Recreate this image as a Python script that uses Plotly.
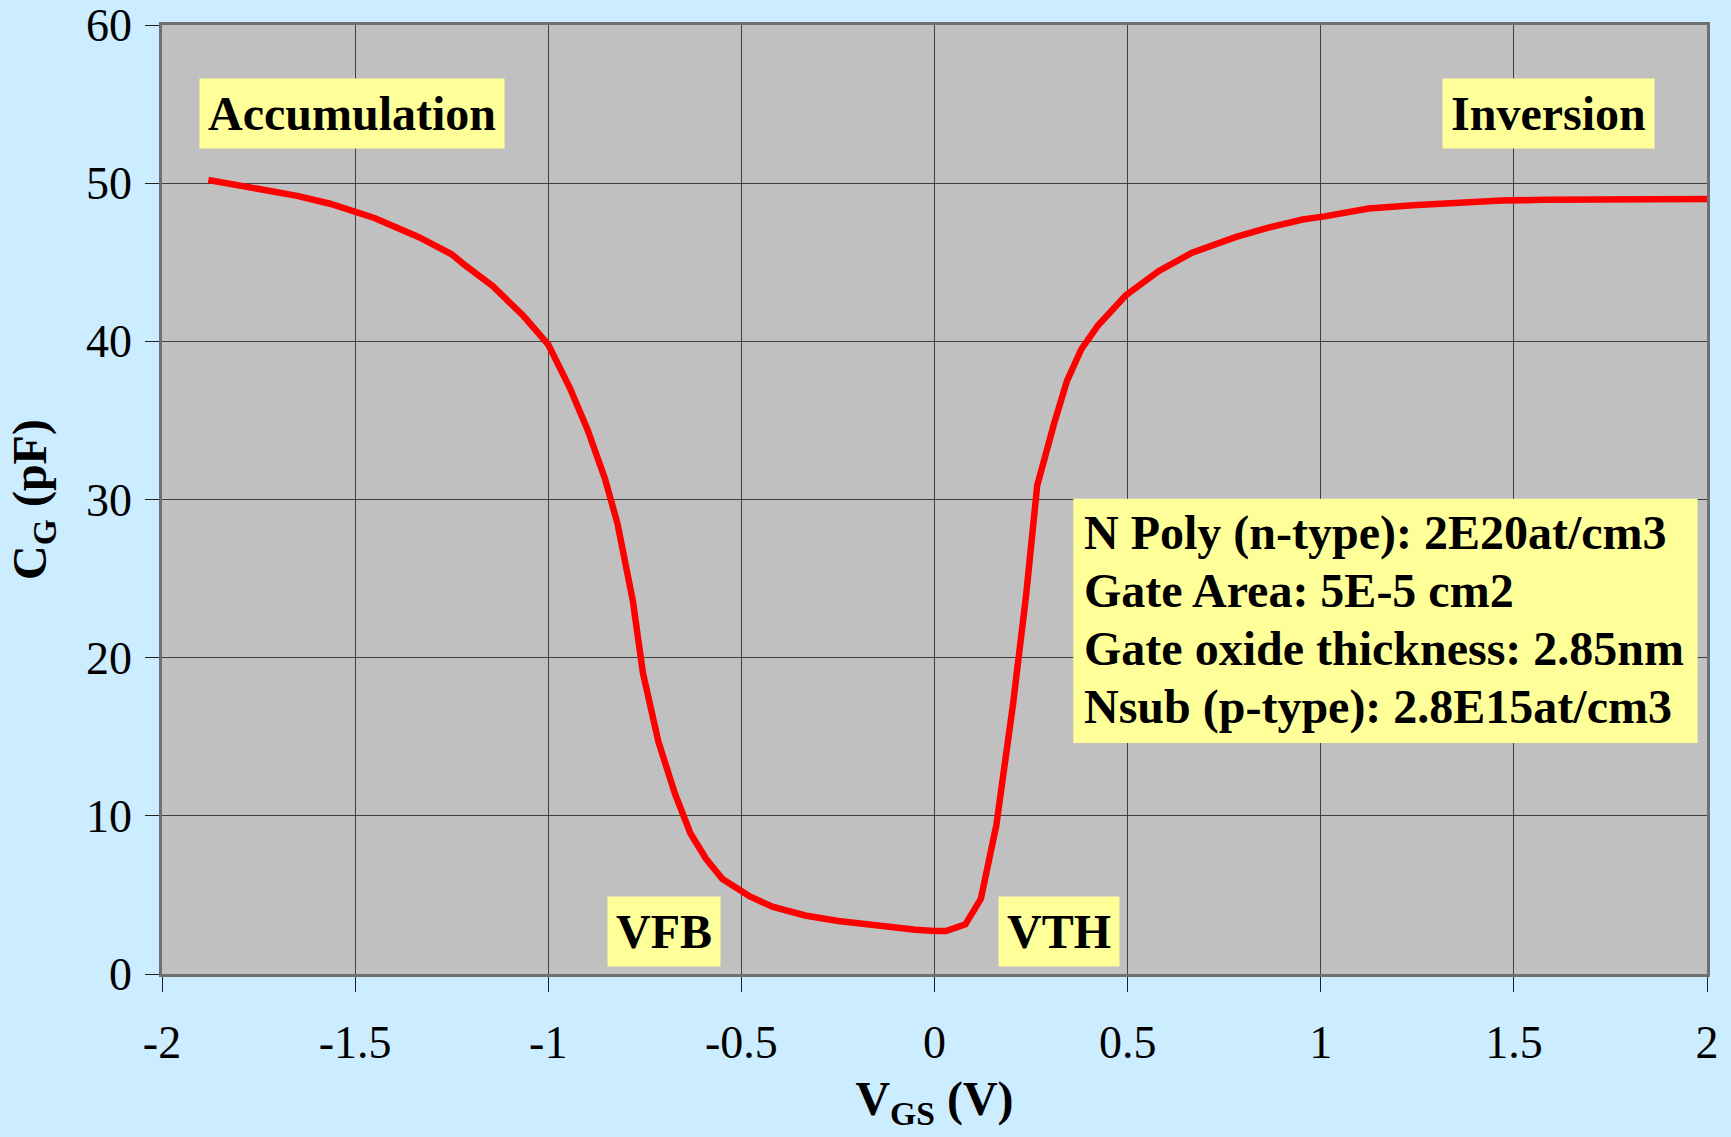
import plotly.graph_objects as go

vgs = [-1.88, -1.765, -1.65, -1.565, -1.45, -1.336, -1.25, -1.22, -1.144, -1.064, -1.0,
       -0.944, -0.898, -0.853, -0.821, -0.781, -0.755, -0.715, -0.672, -0.632, -0.592,
       -0.549, -0.478, -0.42, -0.335, -0.249, -0.134, -0.049, 0.0, 0.03, 0.08, 0.12,
       0.16, 0.203, 0.237, 0.266, 0.309, 0.343, 0.38, 0.423, 0.495, 0.581, 0.667,
       0.724, 0.781, 0.867, 0.953, 1.01, 1.124, 1.239, 1.353, 1.468, 1.582, 1.725, 2.0]
cg = [50.2, 49.75, 49.2, 48.7, 47.8, 46.6, 45.5, 44.9, 43.5, 41.6, 39.8,
      37.05, 34.4, 31.3, 28.5, 23.6, 19.05, 14.7, 11.4, 8.9, 7.3,
      6.0, 4.9, 4.26, 3.7, 3.35, 3.0, 2.8, 2.72, 2.72, 3.14, 4.75,
      9.4, 17.0, 23.9, 30.9, 34.75, 37.5, 39.5, 41.0, 42.9, 44.45, 45.6,
      46.1, 46.6, 47.2, 47.7, 47.9, 48.4, 48.6, 48.8, 48.9, 48.95, 49.0, 49.0]

x_ticks = [-2, -1.5, -1, -0.5, 0, 0.5, 1, 1.5, 2]
x_ticklabels = ["-2", "-1.5", "-1", "-0.5", "0", "0.5", "1", "1.5", "2"]
y_ticks = [0, 10, 20, 30, 40, 50, 60]

info_lines = ["N Poly (n-type): 2E20at/cm3", "Gate Area: 5E-5 cm2",
              "Gate oxide thickness: 2.85nm", "Nsub (p-type): 2.8E15at/cm3"]
info_line_y = [27.89, 24.22, 20.56, 16.89]

FONT = "Times New Roman, Liberation Serif, serif"
BG = "#CCECFF"
YELLOW = "#FFFF99"

fig = go.Figure()
fig.add_trace(go.Scatter(x=vgs, y=cg, mode="lines",
                         line=dict(color="#FF0000", width=6.5), showlegend=False))

ann_style = dict(showarrow=False, bgcolor=YELLOW,
                 font=dict(family=FONT, size=48, color="black"), borderpad=8)

fig.add_annotation(x=-1.508, y=54.41, text="<b>Accumulation</b>", **ann_style)
fig.add_annotation(x=1.59, y=54.41, text="<b>Inversion</b>", **ann_style)
fig.add_annotation(x=-0.70, y=2.7, text="<b>VFB</b>", **ann_style)
fig.add_annotation(x=0.3226, y=2.7, text="<b>VTH</b>", **ann_style)

# info box background + lines
fig.add_shape(type="rect", xref="x", yref="y", x0=0.3595, x1=1.9757, y0=14.61, y1=30.04,
              fillcolor=YELLOW, line=dict(width=0), layer="above")
for line_text, ly in zip(info_lines, info_line_y):
    fig.add_annotation(x=0.3828, y=ly, xanchor="left", yanchor="middle", showarrow=False,
                       text="<b>" + line_text + "</b>",
                       font=dict(family=FONT, size=48, color="black"))

fig.update_layout(
    width=1731, height=1137,
    paper_bgcolor=BG, plot_bgcolor="#C0C0C0",
    margin=dict(l=162, r=24, t=25, b=163),
    font=dict(family=FONT, size=46, color="black"),
)
fig.update_xaxes(range=[-2, 2], tickvals=x_ticks, ticktext=x_ticklabels,
                 showgrid=True, gridcolor="#404040", gridwidth=1,
                 showline=True, linecolor="#707070", linewidth=2.5, mirror=True,
                 ticks="outside", ticklen=15, tickcolor="#202020", tickwidth=1,
                 ticklabelstandoff=11,
                 zeroline=False, tickfont=dict(size=46), automargin=False,
                 title=dict(text="<b>V<sub>GS</sub> (V)</b>", font=dict(size=48), standoff=15))
fig.update_yaxes(range=[0, 60], tickvals=y_ticks,
                 showgrid=True, gridcolor="#404040", gridwidth=1,
                 showline=True, linecolor="#707070", linewidth=2.5, mirror=True,
                 ticks="outside", ticklen=14, tickcolor="#202020", tickwidth=1,
                 ticklabelstandoff=4,
                 zeroline=False, tickfont=dict(size=46), automargin=False,
                 title=dict(text="<b>C<sub>G</sub> (pF)</b>", font=dict(size=48), standoff=25))

fig.write_html("out.html", config={"displayModeBar": False},
               post_script="document.body.style.margin='0';document.body.style.background='%s';" % BG)
